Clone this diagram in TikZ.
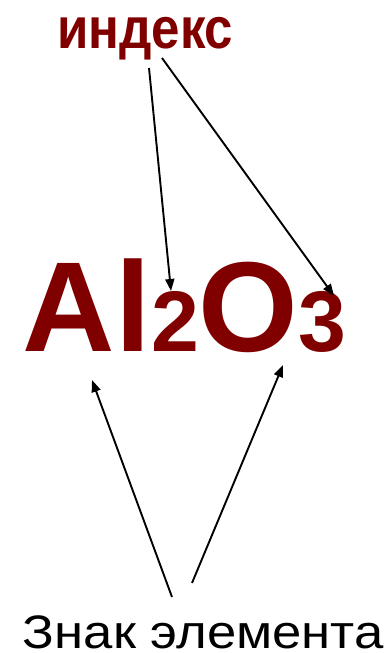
\documentclass[tikz,border=0pt]{standalone}
\usepackage{graphicx}
\usepackage{fontspec}
\setmainfont{Liberation Sans}
\usetikzlibrary{arrows.meta}
\definecolor{maroon}{HTML}{800000}
\tikzset{
  lbl/.style={inner sep=0pt, outer sep=0pt, anchor=base west},
  arr/.style={line width=1.9pt, -{Triangle[length=12pt,width=9pt]}},
}
\begin{document}
\begin{tikzpicture}[x=1pt,y=-1pt]
\useasboundingbox (0,0) rectangle (390,653);
\node[lbl, text=maroon, font=\fontsize{58}{58}\selectfont\bfseries] (idx) at (57,48) {\scalebox{0.88}[1]{индекс}};
\node[lbl, text=maroon, font=\fontsize{128}{128}\selectfont\bfseries] (formula) at (23,351) {Al{\fontsize{86}{86}\selectfont 2}O{\fontsize{86}{86}\selectfont 3}};
\node[lbl, text depth=0pt, font=\fontsize{47}{47}\selectfont] (sign) at (23,648) {\scalebox{1.12}[1]{Знак элемента}};
\coordinate (i1) at (149,68);
\coordinate (i2) at (162,58);
\coordinate (t2) at (171,291);
\coordinate (t3) at (334,296);
\coordinate (s1) at (172,597);
\coordinate (s2) at (192,583);
\coordinate (tA) at (92,380);
\coordinate (tO) at (283,365);
\draw[arr] (i1) -- (t2);
\draw[arr] (i2) -- (t3);
\draw[arr] (s1) -- (tA);
\draw[arr] (s2) -- (tO);
\end{tikzpicture}
\end{document}
